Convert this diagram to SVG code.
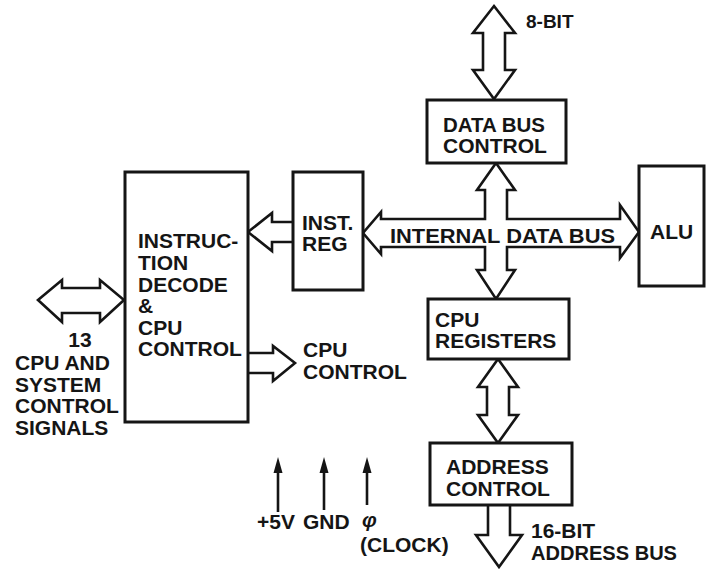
<svg xmlns="http://www.w3.org/2000/svg" width="711" height="569" viewBox="0 0 711 569">
<style>
.box{fill:#fff;stroke:#151515;stroke-width:3}
.bus{fill:#fff;stroke:#151515;stroke-width:2.6;stroke-linejoin:miter}
.t{font-family:"Liberation Sans",Arial,sans-serif;font-weight:bold;font-size:21px;fill:#151515}
.s{font-size:19px}
.pw{stroke:#151515;stroke-width:2.6;fill:none}
.hd{fill:#151515}
</style>
<rect width="711" height="569" fill="#fff"/>
<g id="connectors">
<path class="bus" d="M494 6 L515 33 L505 33 L505 70 L515 70 L494 99 L473 70 L483 70 L483 33 L473 33 Z"/>
<path class="bus" d="M496 163 L515 190 L507 190 L507 219 L620 219 L620 205 L639 232 L620 258 L620 247 L507 247 L507 270 L515 270 L496 299 L477 270 L485 270 L485 247 L381 247 L381 254 L363 233 L381 212 L381 219 L485 219 L485 190 L477 190 Z"/>
<path class="bus" d="M293 222 L272 222 L272 213 L248 232 L272 251 L272 242 L293 242"/>
<path class="bus" d="M38 300 L62 280 L62 288 L100 288 L100 280 L124 300 L100 322 L100 313 L62 313 L62 322 Z"/>
<path class="bus" d="M248 353 L273 353 L273 346 L295 363 L273 381 L273 373 L248 373"/>
<path class="bus" d="M498 359 L518 387 L509 387 L509 415 L518 415 L498 443 L478 415 L487 415 L487 387 L478 387 Z"/>
<path class="bus" d="M488 505 L488 535 L476 535 L499 567 L522 535 L510 535 L510 505"/>
<line class="pw" x1="278" y1="512" x2="278" y2="470"/>
<path class="hd" d="M278 457 L282.5 473 L273.5 473 Z"/>
<line class="pw" x1="324" y1="510" x2="324" y2="470"/>
<path class="hd" d="M324 457 L328.5 473 L319.5 473 Z"/>
<line class="pw" x1="367" y1="505" x2="367" y2="470"/>
<path class="hd" d="M367 457 L371.5 473 L362.5 473 Z"/>
</g>
<g id="decode">
<rect class="box" x="125" y="172" width="123" height="250"/>
<text class="t" x="138" y="248">INSTRUC-</text>
<text class="t" x="138" y="270">TION</text>
<text class="t" x="138" y="292">DECODE</text>
<text class="t" x="138" y="313">&amp;</text>
<text class="t" x="138" y="335">CPU</text>
<text class="t" x="138" y="356">CONTROL</text>
</g>
<g id="instreg">
<rect class="box" x="293" y="172" width="70" height="118"/>
<text class="t" x="302" y="230">INST.</text>
<text class="t" x="302" y="251">REG</text>
</g>
<g id="databus">
<rect class="box" x="427" y="100" width="139" height="63"/>
<text class="t" x="443" y="132" textLength="102" lengthAdjust="spacingAndGlyphs">DATA BUS</text>
<text class="t" x="443" y="153">CONTROL</text>
</g>
<g id="alu">
<rect class="box" x="639" y="166" width="65" height="120"/>
<text class="t" x="650" y="239">ALU</text>
</g>
<g id="registers">
<rect class="box" x="428" y="299" width="141" height="60"/>
<text class="t" x="435" y="327">CPU</text>
<text class="t" x="435" y="348">REGISTERS</text>
</g>
<g id="address">
<rect class="box" x="430" y="443" width="142" height="62"/>
<text class="t" x="446" y="474">ADDRESS</text>
<text class="t" x="446" y="496">CONTROL</text>
</g>
<g id="labels">
<text class="t s" x="526" y="28">8-BIT</text>
<text class="t" x="390" y="243" textLength="225" lengthAdjust="spacingAndGlyphs">INTERNAL DATA BUS</text>
<text class="t" x="80" y="347" text-anchor="middle">13</text>
<text class="t" x="15" y="370">CPU AND</text>
<text class="t" x="15" y="392">SYSTEM</text>
<text class="t" x="15" y="413">CONTROL</text>
<text class="t" x="15" y="435">SIGNALS</text>
<text class="t" x="303" y="357">CPU</text>
<text class="t" x="303" y="379">CONTROL</text>
<text class="t" x="257" y="529">+5V</text>
<text class="t" x="303" y="529">GND</text>
<text class="t" x="362" y="527" font-style="italic" font-weight="normal">φ</text>
<text class="t" x="360" y="552">(CLOCK)</text>
<text class="t" x="531" y="538">16-BIT</text>
<text class="t" x="531" y="560" textLength="146" lengthAdjust="spacingAndGlyphs">ADDRESS BUS</text>
</g>
</svg>
